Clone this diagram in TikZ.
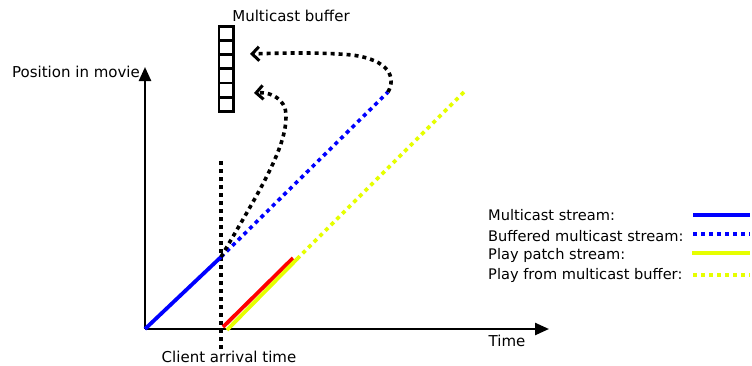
\documentclass[tikz,border=0pt]{standalone}
\usepackage{fontspec}
\setmainfont{DejaVu Sans}
\usepackage{tikz}
\usepackage{xcolor}
\usetikzlibrary{arrows.meta}

\definecolor{patchyellow}{RGB}{230,255,0}
\definecolor{mcblue}{RGB}{0,0,255}

\begin{document}
\begin{tikzpicture}[x=1pt, y=-1pt, font=\fontsize{15}{17}\selectfont]
    % Define styles
    \tikzstyle{axis} = [line width=2.4pt, -{Triangle[length=14pt,width=12pt]}]
    \tikzstyle{stream} = [line width=3.8pt]
    \tikzstyle{dots} = [line width=3.6pt, dash pattern=on 4pt off 4pt]
    \tikzstyle{fetch} = [dots, black, -{Straight Barb[length=7pt,width=14pt,line width=3pt]}]
    \tikzstyle{cell} = [draw=black, line width=2.8pt, minimum size=14.2pt, inner sep=0pt]
    \tikzstyle{legend} = [anchor=west, inner sep=0pt, font=\fontsize{14.6}{17}\selectfont]

    \useasboundingbox (0,0) rectangle (752,365);

    % Axes
    \coordinate (origin) at (145,329);
    \coordinate (ytop) at (145,67);
    \coordinate (xend) at (549,329);
    \draw [axis] (origin) -- (ytop);
    \draw [axis] (origin) -- (xend);
    \node (ylabel) at (76,72) {Position in movie};
    \node (xlabel) at (507,341) {Time};

    % Client arrival
    \coordinate (arrtop) at (221,161);
    \coordinate (arrbot) at (221,350);
    \draw [dots, black] (arrtop) -- (arrbot);
    \node (arrival) at (229,357) {Client arrival time};

    % Multicast buffer
    \foreach \i in {0,...,5}
        \node (cell\i) [cell] at (226,{33.2+14.2*\i}) {};
    \node (buflabel) at (291,16) {Multicast buffer};

    % Multicast stream
    \coordinate (join) at (221,257);
    \coordinate (mcend) at (388,92);
    \draw [stream, mcblue] (origin) -- (join);
    \draw [dots, mcblue] (join) -- (mcend);

    % Patch stream and playback
    \coordinate (redstart) at (223,327);
    \coordinate (redend) at (293,258);
    \coordinate (patchstart) at (227,330);
    \coordinate (patchend) at (297,259);
    \coordinate (playend) at (464,92);
    \draw [stream, red] (redstart) -- (redend);
    \draw [stream, patchyellow] (patchstart) -- (patchend);
    \draw [dots, patchyellow] (patchend) -- (playend);

    % Writing into the buffer
    \draw [fetch] (join) .. controls (260,190) and (292,140) .. (285,108)
        .. controls (280,96) and (268,92) .. (254,93);
    \draw [fetch] (mcend) .. controls (396,78) and (390,60) .. (352,55)
        .. controls (320,52) and (280,53) .. (250,54);

    % Legend
    \node (lg1) [legend] at (488,215) {Multicast stream:};
    \node (lg2) [legend] at (488,236) {Buffered multicast stream:};
    \node (lg3) [legend] at (488,255) {Play patch stream:};
    \node (lg4) [legend] at (488,275) {Play from multicast buffer:};
    \coordinate (l1a) at (693,215); \coordinate (l1b) at (750,215);
    \coordinate (l2a) at (693,234); \coordinate (l2b) at (750,234);
    \coordinate (l3a) at (692,253); \coordinate (l3b) at (750,253);
    \coordinate (l4a) at (693,275); \coordinate (l4b) at (750,275);
    \draw [stream, mcblue] (l1a) -- (l1b);
    \draw [dots, mcblue] (l2a) -- (l2b);
    \draw [stream, patchyellow] (l3a) -- (l3b);
    \draw [dots, patchyellow] (l4a) -- (l4b);
\end{tikzpicture}
\end{document}
